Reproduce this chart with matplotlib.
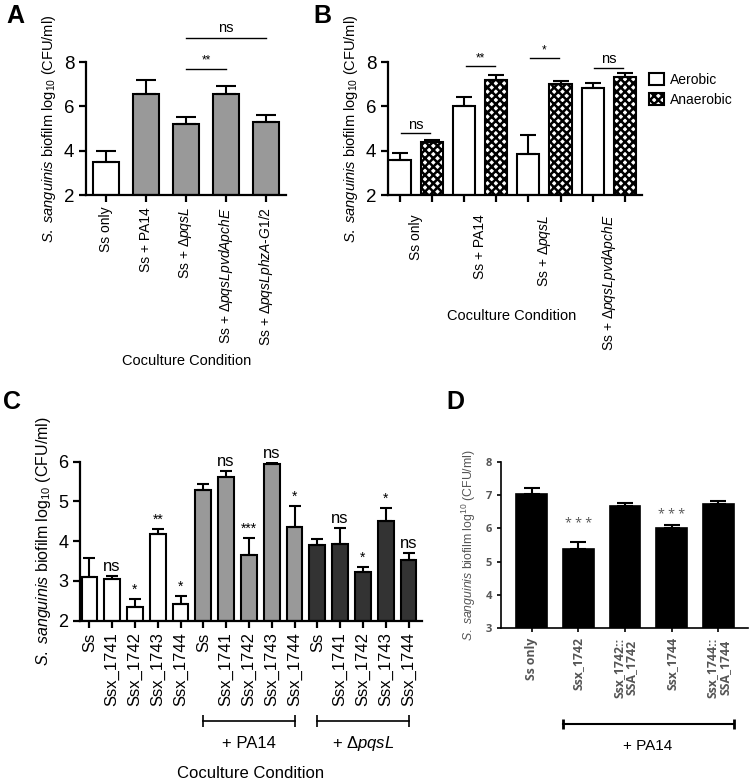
import matplotlib
matplotlib.use("Agg")
import matplotlib.pyplot as plt
import numpy as np

plt.rcParams['font.family'] = ['Liberation Sans', 'DejaVu Sans']
plt.rcParams['mathtext.fontset'] = 'custom'
plt.rcParams['mathtext.rm'] = 'Liberation Sans'
plt.rcParams['mathtext.it'] = 'Liberation Sans:italic'
plt.rcParams['hatch.linewidth'] = 1.8

# ---- data ----
# panel A
a_labels = ["Ss only", "Ss + PA14", "Ss + Δ$\\it{pqsL}$",
            "Ss + Δ$\\it{pqsLpvdApchE}$", "Ss + Δ$\\it{pqsLphzA}$-$\\it{G1/2}$"]
a_vals = [3.47, 6.57, 5.2, 6.57, 5.28]
a_err = [0.52, 0.6, 0.33, 0.35, 0.34]
a_cols = ["white", "#999999", "#999999", "#999999", "#999999"]

# panel B
b_groups = ["Ss only", "Ss + PA14", "Ss + Δ$\\it{pqsL}$", "Ss + Δ$\\it{pqsLpvdApchE}$"]
b_aer = [3.56, 6.03, 3.86, 6.81]
b_aer_err = [0.35, 0.41, 0.85, 0.23]
b_ana = [4.39, 7.2, 7.02, 7.34]
b_ana_err = [0.11, 0.23, 0.12, 0.16]
b_sig = ["ns", "**", "*", "ns"]
b_sig_y = [4.78, 7.8, 8.17, 7.74]

# panel C
c_labels = ["Ss", "Ssx_1741", "Ssx_1742", "Ssx_1743", "Ssx_1744"] * 3
c_vals = [3.1, 3.06, 2.35, 4.18, 2.43,
          5.3, 5.62, 3.64, 5.94, 4.36,
          3.9, 3.93, 3.22, 4.51, 3.52]
c_err = [0.48, 0.07, 0.2, 0.13, 0.2,
         0.15, 0.15, 0.45, 0.04, 0.52,
         0.15, 0.41, 0.13, 0.32, 0.19]
c_sig = ["", "ns", "*", "**", "*",
         "", "ns", "***", "ns", "*",
         "", "ns", "*", "*", "ns"]
c_cols = ["white"] * 5 + ["#999999"] * 5 + ["#333333"] * 5

# panel D
d_labels = ["Ss only", "Ssx_1742", "Ssx_1742::\nSSA_1742", "Ssx_1744", "Ssx_1744::\nSSA_1744"]
d_vals = [7.03, 5.39, 6.67, 6.0, 6.72]
d_err = [0.19, 0.21, 0.08, 0.1, 0.11]
d_sig = ["", "* * *", "", "* * *", ""]
d_sig_y = [0, 6.15, 0, 6.43, 0]

ylab = "$\\it{S.\\ sanguinis}$ biofilm log$_{10}$ (CFU/ml)"

fig = plt.figure(figsize=(7.5, 7.81), dpi=100)


def style(ax, lw=1.6):
    for s in ["top", "right"]:
        ax.spines[s].set_visible(False)
    for s in ["left", "bottom"]:
        ax.spines[s].set_linewidth(lw)
    ax.tick_params(width=lw, length=5)


# ---- A ----
axA = fig.add_axes([0.1147, 0.7503, 0.2666, 0.1703])
xa = np.arange(len(a_vals))
axA.bar(xa, np.array(a_vals) - 2, bottom=2, width=0.67, color=a_cols, edgecolor="black", linewidth=1.5)
axA.errorbar(xa, a_vals, yerr=[np.zeros(5), a_err], fmt="none", ecolor="black", elinewidth=1.5, capsize=7, capthick=1.5)
axA.set_xlim(-0.5, 4.5)
axA.set_ylim(2, 8)
axA.set_yticks([2, 4, 6, 8])
axA.set_xticks(xa)
axA.set_xticklabels(a_labels, rotation=90, fontsize=10)
axA.tick_params(axis="y", labelsize=13.5)
style(axA)
axA.set_ylabel(ylab, fontsize=10.5, labelpad=4)
axA.plot([2, 3], [7.7, 7.7], color="black", lw=1, clip_on=False)
axA.text(2.5, 7.78, "**", ha="center", va="bottom", fontsize=8.5)
axA.plot([2, 4], [9.1, 9.1], color="black", lw=1, clip_on=False)
axA.text(3, 9.2, "ns", ha="center", va="bottom", fontsize=10.5)
fig.text(187 / 750, 1 - 361 / 781, "Coculture Condition", ha="center", va="center", fontsize=10.5)
fig.text(0.008, 1 - 16 / 781, "A", fontsize=18, fontweight="bold", va="center")

# ---- B ----
axB = fig.add_axes([0.5173, 0.7503, 0.3387, 0.1703])
xg = np.arange(len(b_groups)) * 2
axB.bar(xg, np.array(b_aer) - 2, bottom=2, width=0.69, color="white", edgecolor="black", linewidth=1.5, label="Aerobic")
axB.bar(xg + 1, np.array(b_ana) - 2, bottom=2, width=0.69, color="white", edgecolor="black", linewidth=1.5,
        hatch="xxxx", label="Anaerobic")
axB.errorbar(xg, b_aer, yerr=[np.zeros(4), b_aer_err], fmt="none", ecolor="black", elinewidth=1.5, capsize=6, capthick=1.5)
axB.errorbar(xg + 1, b_ana, yerr=[np.zeros(4), b_ana_err], fmt="none", ecolor="black", elinewidth=1.5, capsize=6, capthick=1.5)
axB.set_xlim(-0.36, 7.53)
axB.set_ylim(2, 8)
axB.set_yticks([2, 4, 6, 8])
axB.set_xticks(np.arange(8))
axB.set_xticklabels([])
axB.set_xticks(xg + 0.5, minor=True)
axB.set_xticklabels(b_groups, minor=True, rotation=90, fontsize=10)
axB.tick_params(axis="x", which="minor", length=0, pad=14)
axB.tick_params(axis="y", labelsize=13.5)
style(axB)
axB.set_ylabel(ylab, fontsize=10.5, labelpad=4)
for g, s, y in zip(xg, b_sig, b_sig_y):
    axB.plot([g + 0.05, g + 0.95], [y, y], color="black", lw=1, clip_on=False)
    axB.text(g + 0.5, y + 0.08, s, ha="center", va="bottom", fontsize=8.5 if "*" in s else 10.5)
axB.legend(loc="upper left", bbox_to_anchor=(646 / 750, 1 - 70 / 781), bbox_transform=fig.transFigure,
           frameon=False, fontsize=10, handlelength=1.1, handleheight=0.9, handletextpad=0.4, labelspacing=0.45,
           borderaxespad=0, borderpad=0.2)
fig.text(512 / 750, 1 - 316 / 781, "Coculture Condition", ha="center", va="center", fontsize=10.5)
fig.text(0.418, 1 - 16 / 781, "B", fontsize=18, fontweight="bold", va="center")

# ---- C ----
axC = fig.add_axes([0.1067, 0.2053, 0.4556, 0.2035])
xc = np.arange(len(c_vals))
axC.bar(xc, np.array(c_vals) - 2, bottom=2, width=0.69, color=c_cols, edgecolor="black", linewidth=1.5)
axC.errorbar(xc, c_vals, yerr=[np.zeros(15), c_err], fmt="none", ecolor="black", elinewidth=1.5, capsize=4, capthick=1.5)
for x, v, e, s in zip(xc, c_vals, c_err, c_sig):
    if s:
        axC.text(x, v + e + 0.05, s, ha="center", va="bottom", fontsize=12 if s == "ns" else 10)
axC.set_xlim(-0.41, 14.58)
axC.set_ylim(2, 6)
axC.set_yticks([2, 3, 4, 5, 6])
axC.set_xticks(xc)
axC.set_xticklabels(c_labels, rotation=90, fontsize=12)
axC.tick_params(axis="y", labelsize=13)
style(axC)
axC.set_ylabel(ylab, fontsize=11.5, labelpad=4)
tr = axC.get_xaxis_transform()
for x0, x1, txt in [(5, 9, "+ PA14"), (10, 14, "+ Δ$\\it{pqsL}$")]:
    axC.plot([x0, x1], [-0.631, -0.631], color="black", lw=1.2, transform=tr, clip_on=False)
    axC.plot([x0, x1], [-0.631, -0.631], ls="none", marker="|", ms=8, mew=1.2, color="black", transform=tr, clip_on=False)
    axC.text((x0 + x1) / 2, -0.77, txt, ha="center", va="center", fontsize=12, transform=tr)
axC.text(7.05, -0.96, "Coculture Condition", ha="center", va="center", fontsize=12, transform=tr)
fig.text(0.004, 1 - 402 / 781, "C", fontsize=18, fontweight="bold", va="center")

# ---- D ----
dfont = ["Open Sans", "DejaVu Sans"]
grey = "#555555"
axD = fig.add_axes([0.6676, 0.1955, 0.3294, 0.2133])
xd = np.arange(len(d_vals))
axD.bar(xd, np.array(d_vals) - 3, bottom=3, width=0.66, color="black", edgecolor="black", linewidth=1.2)
axD.errorbar(xd, d_vals, yerr=[np.zeros(5), d_err], fmt="none", ecolor="black", elinewidth=1.5, capsize=6, capthick=1.5)
for x, v, s in zip(xd, d_sig_y, d_sig):
    if s:
        axD.text(x, v, s, ha="center", va="center", fontsize=9, color=grey, family=dfont)
axD.set_xlim(-0.66, 4.63)
axD.set_ylim(3, 8)
axD.set_yticks([3, 4, 5, 6, 7, 8])
axD.set_xticks(xd)
axD.set_xticklabels(d_labels, rotation=90, fontsize=8.8, color=grey, family=dfont, fontweight="bold",
                    linespacing=0.95)
for t in axD.get_yticklabels():
    t.set_family(dfont)
    t.set_fontweight("bold")
axD.tick_params(axis="y", labelsize=8, labelcolor=grey)
style(axD, lw=1.2)
axD.tick_params(axis="both", length=3, width=1.2)
axD.set_ylabel("$\\it{S.\\ sanguinis}$ biofilm log$^{10}$ (CFU/ml)", fontsize=8.8, color=grey, labelpad=5)
trd = axD.get_xaxis_transform()
axD.plot([0.67, 4.33], [-0.574, -0.574], color="black", lw=1.5, transform=trd, clip_on=False)
axD.plot([0.67, 4.33], [-0.574, -0.574], ls="none", marker="|", ms=7, mew=2, color="black", transform=trd, clip_on=False)
axD.text(2.49, -0.705, "+ PA14", ha="center", va="center", fontsize=11, transform=trd)
fig.text(0.595, 1 - 402 / 781, "D", fontsize=18, fontweight="bold", va="center")

fig.savefig("out.png", dpi=100)
